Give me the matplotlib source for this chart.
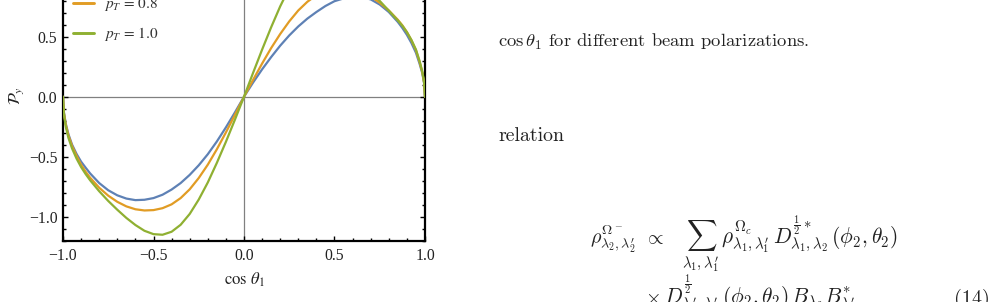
import numpy as np
import matplotlib
matplotlib.use("Agg")
import matplotlib.pyplot as plt
from matplotlib.ticker import MultipleLocator, FixedLocator, FixedFormatter

# ---------------- data ----------------
cos_theta = [-1.00, -0.995, -0.985, -0.97, -0.95, -0.925, -0.90, -0.875, -0.85, -0.80,
             -0.75, -0.70, -0.65, -0.60, -0.55, -0.50, -0.45, -0.40, -0.35, -0.30,
             -0.25, -0.20, -0.15, -0.10, -0.05, 0.00, 0.05, 0.10, 0.15, 0.20,
             0.25, 0.30, 0.35, 0.40, 0.45, 0.50, 0.55, 0.60, 0.65, 0.70,
             0.75, 0.80, 0.85, 0.875, 0.90, 0.925, 0.95, 0.97, 0.985, 0.995, 1.00]

py_pT0 = [0.0, -0.128, -0.222, -0.312, -0.398, -0.476, -0.540, -0.590, -0.638, -0.718,
          -0.778, -0.820, -0.847, -0.860, -0.857, -0.843, -0.815, -0.772, -0.718, -0.650,
          -0.570, -0.478, -0.372, -0.255, -0.130, 0.0, 0.118, 0.228, 0.330, 0.425,
          0.510, 0.585, 0.650, 0.705, 0.755, 0.795, 0.818, 0.830, 0.828, 0.810,
          0.767, 0.705, 0.622, 0.572, 0.515, 0.447, 0.366, 0.275, 0.196, 0.113, 0.0]

py_pT08 = [0.0, -0.133, -0.230, -0.322, -0.410, -0.492, -0.565, -0.624, -0.674, -0.757,
           -0.823, -0.874, -0.912, -0.936, -0.946, -0.943, -0.927, -0.895, -0.843, -0.770,
           -0.676, -0.565, -0.437, -0.297, -0.150, 0.0, 0.140, 0.276, 0.405, 0.522,
           0.627, 0.718, 0.790, 0.845, 0.882, 0.903, 0.908, 0.897, 0.872, 0.833,
           0.782, 0.718, 0.640, 0.594, 0.538, 0.470, 0.387, 0.290, 0.205, 0.118, 0.0]

py_pT10 = [0.0, -0.143, -0.247, -0.342, -0.430, -0.515, -0.585, -0.643, -0.695, -0.786,
           -0.867, -0.940, -1.008, -1.067, -1.115, -1.143, -1.148, -1.123, -1.065, -0.975,
           -0.855, -0.713, -0.550, -0.375, -0.190, 0.0, 0.198, 0.392, 0.578, 0.752,
           0.905, 1.025, 1.105, 1.145, 1.150, 1.128, 1.085, 1.025, 0.955, 0.878,
           0.797, 0.716, 0.634, 0.590, 0.537, 0.472, 0.392, 0.298, 0.210, 0.120, 0.0]

series_labels = [r"$p_T\, =\, 0$", r"$p_T\, =\, 0.8$", r"$p_T\, =\, 1.0$"]
series_colors = ["#5E81B5", "#E19C24", "#8FB032"]

x_ticks = [-1.0, -0.5, 0.0, 0.5, 1.0]
x_ticklabels = ["\u22121.0", "\u22120.5", "0.0", "0.5", "1.0"]
y_ticks = [-1.0, -0.5, 0.0, 0.5, 1.0]
y_ticklabels = ["\u22121.0", "\u22120.5", "0.0", "0.5", "1.0"]

# ---------------- figure ----------------
plt.rcParams["mathtext.fontset"] = "stix"
W, H = 994, 302
fig = plt.figure(figsize=(W / 100, H / 100), dpi=100)

ax_left, ax_right, ax_bottom_px, ax_top_px = 63, 425, 241, -47.5
ax = fig.add_axes([ax_left / W, (H - ax_bottom_px) / H,
                   (ax_right - ax_left) / W, (ax_bottom_px - ax_top_px) / H])

ax.axhline(0, color="#808080", lw=0.9, zorder=1)
ax.axvline(0, color="#808080", lw=0.9, zorder=1)

for ys, lab, col in zip([py_pT0, py_pT08, py_pT10], series_labels, series_colors):
    ax.plot(cos_theta, ys, color=col, lw=1.6, label=lab, zorder=3,
            solid_joinstyle="round", solid_capstyle="round")

ax.set_xlim(-1.0, 1.0)
ax.set_ylim(-1.2, 1.2)

ax.xaxis.set_major_locator(FixedLocator(x_ticks))
ax.xaxis.set_major_formatter(FixedFormatter(x_ticklabels))
ax.yaxis.set_major_locator(FixedLocator(y_ticks))
ax.yaxis.set_major_formatter(FixedFormatter(y_ticklabels))
ax.xaxis.set_minor_locator(MultipleLocator(0.1))
ax.yaxis.set_minor_locator(MultipleLocator(0.1))

ax.tick_params(which="both", direction="in", top=True, right=True, width=1.0,
               color="black")
ax.tick_params(which="major", length=3.5)
ax.tick_params(which="minor", length=2.0)
ax.tick_params(axis="x", which="major", pad=5)
ax.tick_params(axis="y", which="major", pad=4)
for lbl in ax.get_xticklabels() + ax.get_yticklabels():
    lbl.set_fontfamily("Liberation Serif")
    lbl.set_fontsize(11.3)
    lbl.set_color("#222222")
for s in ax.spines.values():
    s.set_linewidth(1.6)
    s.set_color("black")

ax.set_xlabel(r"$\cos\,\theta_1$", fontsize=12, color="#222222", labelpad=5)
fig.text(17 / W, 1 - 96 / H, r"$\mathcal{P}_y$", rotation=90, fontsize=12,
         ha="center", va="center", color="#222222")

leg = ax.legend(loc="upper left", bbox_to_anchor=(10 / 362, 0.949), frameon=False,
                borderpad=0, borderaxespad=0, handlelength=1.4, handletextpad=0.6,
                labelspacing=0.78, prop={"family": "Liberation Serif", "size": 11})
for t in leg.get_texts():
    t.set_color("#333333")
for h in leg.get_lines():
    h.set_linewidth(2.1)

# ---------------- surrounding page text ----------------
cm = dict(fontfamily="cmr10", math_fontfamily="cm", color="#222222")
fs = 14.5


def ftxt(xpx, ypx, s, ha="left", size=fs):
    fig.text(xpx / W, 1 - ypx / H, s, fontsize=size, ha=ha, va="baseline", **cm)


ftxt(498, 47, r"$\cos\theta_1$ for different beam polarizations.", size=13.4)
ftxt(498, 141, "relation", size=14.3)

# equation line 1
ftxt(590, 244, r"$\rho^{\Omega^-}_{\lambda_2,\lambda_2^\prime}$")
ftxt(644, 244, r"$\propto$")
ftxt(682, 244,
     r"$\sum_{\lambda_1,\lambda_1^\prime}\,\rho^{\Omega_c}_{\lambda_1,\lambda_1^\prime}\,"
     r"D^{\frac{1}{2}*}_{\lambda_1,\lambda_2}\,(\phi_2,\theta_2)$", size=15.3)

# equation line 2 (cut by the page edge)
ftxt(645, 304, r"$\times$")
ftxt(664, 304,
     r"$D^{\frac{1}{2}}_{\lambda_1^\prime,\lambda_2^\prime}\,(\phi_2,\theta_2)\,"
     r"B_{\lambda_2}B^{*}_{\lambda_2^\prime}$", size=15.3)
ftxt(990, 304, "(14)", ha="right")

fig.savefig("out.png", dpi=100)
